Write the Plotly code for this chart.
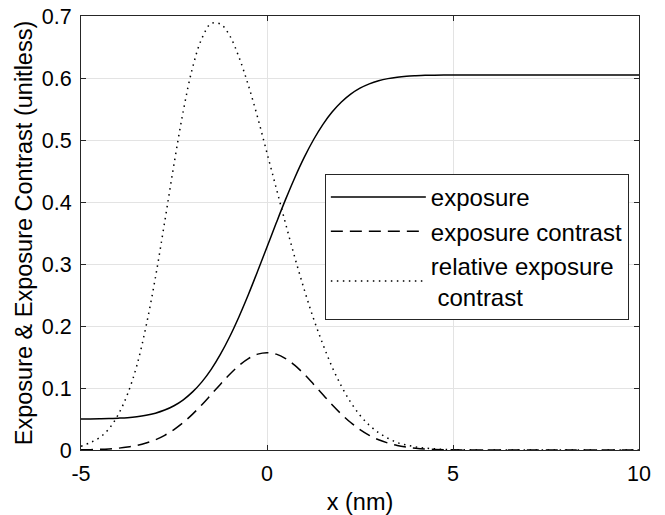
import plotly.graph_objects as go

# x positions (nm)
x_nm = [-5, -4.75, -4.5, -4.25, -4, -3.75, -3.5, -3.25, -3, -2.75, -2.5, -2.25,
        -2, -1.75, -1.5, -1.25, -1, -0.75, -0.5, -0.25, 0, 0.25, 0.5, 0.75,
        1, 1.25, 1.5, 1.75, 2, 2.25, 2.5, 2.75, 3, 3.25, 3.5, 3.75, 4, 4.25,
        4.5, 4.75, 5, 6, 7, 8, 9, 10]

exposure = [0.0501, 0.0502, 0.0504, 0.0507, 0.0513, 0.0522, 0.0537, 0.0560,
            0.0594, 0.0644, 0.0714, 0.0810, 0.0937, 0.1099, 0.1301, 0.1546,
            0.1831, 0.2154, 0.2508, 0.2886, 0.3275, 0.3664, 0.4042, 0.4396,
            0.4719, 0.5004, 0.5249, 0.5451, 0.5613, 0.5740, 0.5836, 0.5906,
            0.5956, 0.5990, 0.6013, 0.6028, 0.6037, 0.6043, 0.6046, 0.6048,
            0.6049, 0.605, 0.605, 0.605, 0.605, 0.605]

exposure_contrast = [0.0003, 0.0006, 0.0010, 0.0017, 0.0029, 0.0047, 0.0073,
                     0.0112, 0.0165, 0.0237, 0.0329, 0.0443, 0.0578, 0.0730,
                     0.0895, 0.1062, 0.1223, 0.1364, 0.1475, 0.1546, 0.157,
                     0.1546, 0.1475, 0.1364, 0.1223, 0.1062, 0.0895, 0.0730,
                     0.0578, 0.0443, 0.0329, 0.0237, 0.0165, 0.0112, 0.0073,
                     0.0047, 0.0029, 0.0017, 0.0010, 0.0006, 0.0003, 0, 0, 0, 0, 0]

relative_contrast = [0.006, 0.012, 0.020, 0.034, 0.057, 0.090, 0.136, 0.200,
                     0.278, 0.368, 0.461, 0.547, 0.617, 0.664, 0.688, 0.687,
                     0.668, 0.633, 0.588, 0.536, 0.479, 0.422, 0.365, 0.310,
                     0.259, 0.212, 0.171, 0.134, 0.103, 0.077, 0.056, 0.040,
                     0.028, 0.019, 0.012, 0.008, 0.005, 0.003, 0.002, 0.001,
                     0.0005, 0, 0, 0, 0, 0]

x_ticks = [-5, 0, 5, 10]
x_ticklabels = ["-5", "0", "5", "10"]
y_ticks = [0, 0.1, 0.2, 0.3, 0.4, 0.5, 0.6, 0.7]
y_ticklabels = ["0", "0.1", "0.2", "0.3", "0.4", "0.5", "0.6", "0.7"]

FONT = "Liberation Sans, Arial, Helvetica, sans-serif"
AX = "#262626"

fig = go.Figure()
fig.add_trace(go.Scatter(x=x_nm, y=exposure, mode="lines", name="exposure",
                         line=dict(color="black", width=1.5, shape="spline")))
fig.add_trace(go.Scatter(x=x_nm, y=exposure_contrast, mode="lines",
                         name="exposure contrast",
                         line=dict(color="black", width=1.5, dash="12px,7px",
                                   shape="spline")))
fig.add_trace(go.Scatter(x=x_nm, y=relative_contrast, mode="lines",
                         name="relative exposure<br> contrast",
                         line=dict(color="black", width=1.5, dash="1.5px,4.5px",
                                   shape="spline")))

axis_common = dict(showline=True, linecolor=AX, linewidth=1, mirror="ticks",
                   ticks="inside", ticklen=5, tickcolor=AX, tickwidth=1,
                   showgrid=True, gridcolor="#e3e3e3", gridwidth=1,
                   zeroline=False, automargin=False,
                   tickfont=dict(size=21.5, color="black", family=FONT))

fig.update_layout(
    width=665, height=515,
    margin=dict(l=81, r=26, t=16, b=65),
    paper_bgcolor="white", plot_bgcolor="white",
    font=dict(family=FONT, size=21.5, color="black"),
    xaxis=dict(range=[-5, 10], tickvals=x_ticks, ticktext=x_ticklabels,
               ticklabelstandoff=4,
               title=dict(text="x (nm)", font=dict(size=23.5), standoff=9),
               **axis_common),
    yaxis=dict(range=[0, 0.7], tickvals=y_ticks, ticktext=y_ticklabels,
               ticklabelstandoff=4,
               title=dict(text="Exposure & Exposure Contrast (unitless)",
                          font=dict(size=23.5), standoff=2),
               **axis_common),
    legend=dict(x=0.437, y=0.636, xanchor="left", yanchor="top",
                bgcolor="white", bordercolor=AX, borderwidth=1,
                font=dict(size=24, family=FONT, color="black"),
                itemwidth=95, valign="middle"),
    showlegend=True,
)

fig.write_html("out.html")
